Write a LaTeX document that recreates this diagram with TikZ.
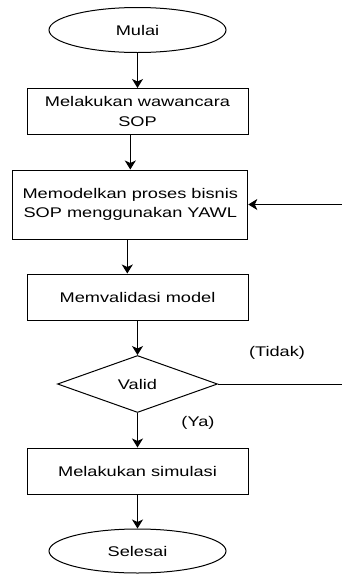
\documentclass[tikz,border=0pt]{standalone}
\usepackage{fontspec}
\setmainfont{Liberation Sans}[FakeStretch=1.3]
\usetikzlibrary{shapes.geometric,arrows.meta}
\begin{document}
\begin{tikzpicture}[x=1pt,y=-1pt,
  every node/.style={font=\fontsize{14}{19.5}\selectfont, align=center, inner sep=0pt},
  procbox/.style={draw, line width=1pt, minimum width=221pt, minimum height=46pt},
  term/.style={draw, line width=1pt, ellipse, minimum width=177pt, minimum height=45pt},
  decision/.style={draw, line width=1pt, diamond, minimum width=160pt, minimum height=57pt, aspect=2.8},
  arr/.style={line width=1pt, -{Stealth[length=9pt,width=11pt,inset=2.5pt]}},
  ln/.style={line width=1pt}]
\useasboundingbox (0,0) rectangle (342,574);
\node[term] (mulai) at (137.5,30) {Mulai};
\node[procbox] (wawancara) at (137.5,111.5) {Melakukan wawancara\\SOP};
\node[procbox, minimum width=235pt, minimum height=69pt] (model) at (130.3,204.5) {Memodelkan proses bisnis\\SOP menggunakan YAWL};
\node[procbox] (validasi) at (137.5,297) {Memvalidasi model};
\node[decision] (valid) at (137.5,384) {Valid};
\node[procbox] (simulasi) at (137.5,471) {Melakukan simulasi};
\node[term, minimum height=44pt] (selesai) at (137.5,551) {Selesai};
\node (tidak) at (277,353) {(Tidak)};
\node (ya) at (198,423) {(Ya)};
\coordinate (fb) at (342,204.5);
\coordinate (tend) at (342,384);
\draw[arr] (mulai) -- (wawancara);
\draw[arr] (model.north |- wawancara.south) -- (model.north);
\draw[arr] ([xshift=-3pt]model.south) -- ([xshift=-3pt]model.south |- validasi.north);
\draw[arr] (validasi) -- (valid);
\draw[arr] (valid) -- (simulasi);
\draw[arr] (simulasi) -- (selesai);
\draw[arr] (fb) -- (model.east);
\draw[ln] (valid.east) -- (tend);
\end{tikzpicture}
\end{document}
